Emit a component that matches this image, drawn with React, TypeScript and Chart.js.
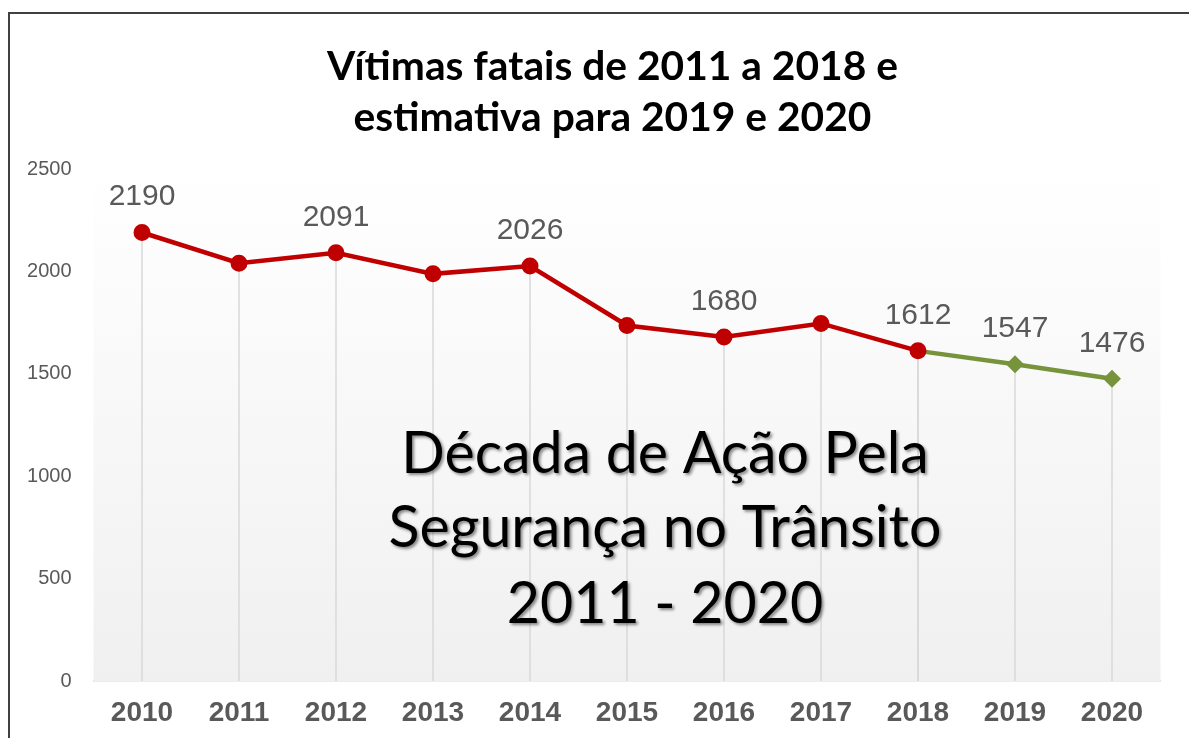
import React, { useEffect, useRef } from "react";
import { Chart, registerables } from "chart.js";

Chart.register(...registerables);

const years = ["2010", "2011", "2012", "2013", "2014", "2015", "2016", "2017", "2018", "2019", "2020"];
const recorded = [2190, 2040, 2091, 1988, 2026, 1736, 1680, 1746, 1612, null, null];
const estimated = [null, null, null, null, null, null, null, null, 1612, 1547, 1476];
const labeledRecorded = ["2010", "2012", "2014", "2016", "2018"];
const labeledEstimated = ["2019", "2020"];
const yTicks = [0, 500, 1000, 1500, 2000, 2500];
const titleLines = ["Vítimas fatais de 2011 a 2018 e", "estimativa para 2019 e 2020"];
const overlayLines = ["Década de Ação Pela", "Segurança no Trânsito", "2011 - 2020"];

const RED = "#C00000";
const GREEN = "#77933C";
const GREY = "#595959";

function fitFont(ctx: CanvasRenderingContext2D, text: string, target: number, weight: string, family: string) {
  ctx.font = `${weight} 40px ${family}`;
  const w = ctx.measureText(text).width;
  return (40 * target) / w;
}

const decorPlugin = {
  id: "decor",
  beforeDatasetsDraw(chart: any) {
    const { ctx, chartArea: a } = chart;
    ctx.save();
    const g = ctx.createLinearGradient(0, a.top, 0, a.bottom);
    g.addColorStop(0, "#ffffff");
    g.addColorStop(1, "#f0f0f0");
    ctx.fillStyle = g;
    ctx.fillRect(a.left, a.top, a.right - a.left, a.bottom - a.top);
    // drop lines
    ctx.strokeStyle = "#d9d9d9";
    ctx.lineWidth = 1.5;
    chart.data.datasets.forEach((ds: any, di: number) => {
      const meta = chart.getDatasetMeta(di);
      meta.data.forEach((pt: any, i: number) => {
        if (ds.data[i] == null) return;
        ctx.beginPath();
        ctx.moveTo(pt.x, pt.y);
        ctx.lineTo(pt.x, a.bottom);
        ctx.stroke();
      });
    });
    ctx.restore();
  },
  afterDatasetsDraw(chart: any) {
    const { ctx } = chart;
    ctx.save();
    ctx.font = "30px 'Liberation Sans', Arial, sans-serif";
    ctx.fillStyle = GREY;
    ctx.textAlign = "center";
    ctx.textBaseline = "alphabetic";
    const lists = [labeledRecorded, labeledEstimated];
    chart.data.datasets.forEach((ds: any, di: number) => {
      const meta = chart.getDatasetMeta(di);
      meta.data.forEach((pt: any, i: number) => {
        if (ds.data[i] == null) return;
        if (!lists[di].includes(years[i])) return;
        ctx.fillText(String(ds.data[i]), pt.x, pt.y - 27);
      });
    });
    ctx.restore();
  },
  afterDraw(chart: any) {
    const { ctx } = chart;
    ctx.save();
    // title
    const tFam = "Lato, 'Open Sans', sans-serif";
    const tSize = fitFont(ctx, titleLines[0], 571, "bold", tFam);
    ctx.font = `bold ${tSize}px ${tFam}`;
    ctx.fillStyle = "#000000";
    ctx.textAlign = "center";
    ctx.textBaseline = "alphabetic";
    ctx.fillText(titleLines[0], 602.5, 66);
    ctx.fillText(titleLines[1], 602.5, 117);
    // overlay
    const oFam = "Lato, 'Open Sans', sans-serif";
    const oSize = fitFont(ctx, overlayLines[1], 553, "normal", oFam);
    ctx.font = `normal ${oSize}px ${oFam}`;
    ctx.shadowColor = "rgba(0,0,0,0.45)";
    ctx.shadowOffsetX = 2;
    ctx.shadowOffsetY = 2;
    ctx.shadowBlur = 3;
    ctx.fillStyle = "#000000";
    const ys = [459, 533, 609];
    overlayLines.forEach((l, i) => ctx.fillText(l, 655, ys[i]));
    ctx.restore();
  },
};

export default function App() {
  const ref = useRef<HTMLCanvasElement>(null);
  useEffect(() => {
    const chart = new Chart(ref.current!, {
      type: "line",
      data: {
        labels: years,
        datasets: [
          {
            data: recorded,
            borderColor: RED,
            backgroundColor: RED,
            borderWidth: 4.5,
            pointStyle: "circle",
            pointRadius: 7.5,
            pointBorderWidth: 2,
            pointBorderColor: RED,
            pointBackgroundColor: RED,
            order: 0,
            spanGaps: false,
          },
          {
            data: estimated,
            borderColor: GREEN,
            backgroundColor: GREEN,
            borderWidth: 4.5,
            pointStyle: "rectRot",
            pointRadius: (c: any) => (recorded[c.dataIndex] != null ? 0 : 9),
            pointBorderWidth: 0,
            pointBackgroundColor: GREEN,
            order: 1,
          },
        ],
      },
      options: {
        animation: false,
        responsive: false,
        layout: { padding: { top: 155, right: 28.5, left: 0, bottom: 0 } },
        plugins: { legend: { display: false }, title: { display: false }, tooltip: { enabled: false } },
        scales: {
          x: {
            offset: true,
            grid: { display: false, drawTicks: false },
            border: { display: true, color: "#d9d9d9", width: 1.5 },
            ticks: {
              color: GREY,
              padding: 15,
              font: { family: "'Liberation Sans', Arial, sans-serif", size: 28, weight: "bold" },
            },
            afterFit: (s: any) => {
              s.height = 57;
            },
          },
          y: {
            min: 0,
            max: 2500,
            grid: { display: false, drawTicks: false },
            border: { display: false },
            afterBuildTicks: (s: any) => {
              s.ticks = yTicks.map((v) => ({ value: v }));
            },
            ticks: {
              color: GREY,
              padding: 22,
              callback: (v: any) => String(v),
              font: { family: "'Liberation Sans', Arial, sans-serif", size: 20 },
            },
            afterFit: (s: any) => {
              s.width = 83.5;
            },
          },
        },
      },
      plugins: [decorPlugin],
    });
    return () => chart.destroy();
  }, []);
  return (
    <div
      style={{
        position: "fixed",
        left: 8,
        top: 12,
        width: 1181,
        height: 726,
        borderLeft: "2px solid #404040",
        borderTop: "2px solid #404040",
        background: "#fff",
        overflow: "hidden",
      }}
    >
      <canvas ref={ref} width={1179} height={724} style={{ display: "block" }} />
    </div>
  );
}
